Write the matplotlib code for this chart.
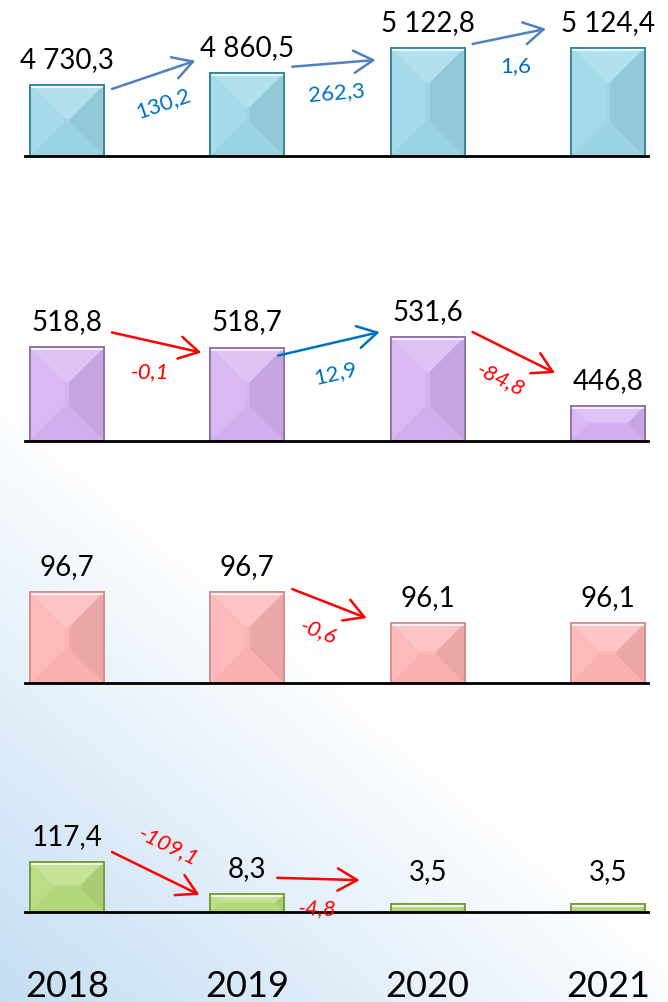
import numpy as np
import matplotlib
matplotlib.use('Agg')
import matplotlib.pyplot as plt
from matplotlib.patches import Polygon
from matplotlib.colors import to_rgb

plt.rcParams['font.family'] = ['Lato', 'DejaVu Sans']

# data
years = ['2018', '2019', '2020', '2021']
row1 = [4730.3, 4860.5, 5122.8, 5124.4]
row2 = [518.8, 518.7, 531.6, 446.8]
row3 = [96.7, 96.7, 96.1, 96.1]
row4 = [117.4, 8.3, 3.5, 3.5]

W, H = 668, 1002
fig = plt.figure(figsize=(W / 100, H / 100), dpi=100)

# background: white fading to light blue at bottom left
bg = fig.add_axes([0, 0, 1, 1], zorder=-10)
xf, yf = np.meshgrid(np.linspace(0, 1, 200), np.linspace(0, 1, 300))
t = np.clip(yf * 1.6 - 0.6 - xf * 0.9, 0, 1)
c = np.array([0.77, 0.87, 0.955])
img = 1 - t[..., None] * (1 - c)
bg.imshow(img, extent=[0, 1, 0, 1], aspect='auto', origin='upper', interpolation='bilinear')
bg.axis('off')

rows = [
    dict(vals=row1, base=156, ylim=(3977, 5462), scale='linear',
         face='#9DD7E7', edge='#31859C', up='#4F81BD'),
    dict(vals=row2, base=441, ylim=(403.8, 575.9), scale='linear',
         face='#D5B3F2', edge='#8E72A8', up='#0070C0'),
    dict(vals=row3, base=683, ylim=(94.94, 97.65), scale='linear',
         face='#FDB4B4', edge='#D38E8E', up='#0070C0'),
    dict(vals=row4, base=912, ylim=(1.82, 1.82 * np.exp(140 / 12)), scale='log',
         face='#B6DA7C', edge='#789A3E', up='#0070C0'),
]

# arrow tweaks in pixels: (tail dx, tail dy, head dx, head dy, label side, rotation)
tweaks = {
    (0, 0): (0, -4, 0, 12, 1, None),
    (0, 1): (0, 6, 0, -12, 1, None),
    (0, 2): (0, 4, -10, 19, 1, 0),
    (1, 0): (0, 15, 6, -5, 1, 0),
    (1, 1): (-14, -8, 4, 5, 1, None),
    (1, 2): (0, 5, -1, 33, 1, None),
    (2, 1): (0, 3, -9, 5, 1, None),
    (3, 0): (0, 10, 4, -1, -1, None),
    (3, 1): (-15, 16, -16, 24, 1, None),
}

BW = 0.41
x = np.arange(len(years))


def mix(col, other, f):
    a = np.array(to_rgb(col))
    b = np.array(to_rgb(other))
    return tuple(a * (1 - f) + b * f)


def fmt(v):
    return f'{v:,.1f}'.replace(',', ' ').replace('.', ',')


for r, row in enumerate(rows):
    ax = fig.add_axes([25 / W, 1 - row['base'] / H, 623 / W, 140 / H])
    ax.set_yscale(row['scale'])
    ax.set_xlim(-0.233, 3.222)
    ax.set_ylim(*row['ylim'])
    ax.patch.set_alpha(0)
    for s in ['top', 'left', 'right']:
        ax.spines[s].set_visible(False)
    ax.spines['bottom'].set_linewidth(2)
    ax.spines['bottom'].set_color('black')
    ax.spines['bottom'].set_zorder(5)
    ax.set_xticks([])
    ax.set_yticks([])
    ax.minorticks_off()

    y0 = row['ylim'][0]
    vals = np.array(row['vals'])
    ax.bar(x, vals - y0, bottom=y0, width=BW, color=row['face'],
           edgecolor=row['edge'], linewidth=1.2, zorder=2)

    boxes = []
    inv = ax.transData.inverted()
    for i, v in enumerate(vals):
        (xa, ya), (xb, yb) = ax.transData.transform([(x[i] - BW / 2, y0), (x[i] + BW / 2, v)])
        boxes.append((xa, ya, xb, yb))
        w, h = xb - xa, yb - ya
        d = min(w, h) * 0.47
        f = row['face']
        faces = [
            ([(xa, yb), (xb, yb), (xb - d, yb - d), (xa + d, yb - d)], mix(f, 'white', 0.22)),
            ([(xa, ya), (xb, ya), (xb - d, ya + d), (xa + d, ya + d)], mix(f, 'black', 0.02)),
            ([(xa, ya), (xa + d, ya + d), (xa + d, yb - d), (xa, yb)], mix(f, 'white', 0.08)),
            ([(xb, ya), (xb - d, ya + d), (xb - d, yb - d), (xb, yb)], mix(f, 'black', 0.07)),
        ]
        for pts, col in faces:
            ax.add_patch(Polygon(inv.transform(pts), closed=True, facecolor=col,
                                 edgecolor='none', zorder=3))
        ax.add_patch(Polygon(inv.transform([(xa, ya), (xb, ya), (xb, yb), (xa, yb)]),
                             closed=True, facecolor='none', edgecolor=row['edge'],
                             linewidth=1.3, zorder=4))
        ax.plot(*inv.transform([(xa + 2, yb - 2), (xb - 2, yb - 2)]).T,
                color='white', alpha=0.7, lw=1.5, zorder=4)

        # value label
        off = max(17, (H - row['base']) + 32 - yb)
        fig.text((xa + xb) / 2 / W, (yb + off) / H, fmt(v), ha='center', va='baseline',
                 fontsize=20, color='black')

    # change arrows
    for i in range(len(vals) - 1):
        dv = round(vals[i + 1] - vals[i], 1)
        if dv == 0:
            continue
        tdx, tdy, hdx, hdy, side, rot = tweaks.get((r, i), (0, 0, 0, 0, 1, None))
        tail = np.array([boxes[i][2] + 8 + tdx, boxes[i][3] + tdy])
        head = np.array([boxes[i + 1][0] - 15 + hdx, boxes[i + 1][3] + hdy])
        col = row['up'] if dv > 0 else '#FF0000'
        ax.annotate('', xy=head, xytext=tail, xycoords='figure pixels',
                    textcoords='figure pixels',
                    arrowprops=dict(arrowstyle='->,head_length=0.7,head_width=0.4',
                                    color=col, lw=1.8, shrinkA=0, shrinkB=0,
                                    mutation_scale=20), zorder=6)
        vec = head - tail
        ang = np.degrees(np.arctan2(vec[1], vec[0]))
        u = vec / np.hypot(*vec)
        perp = np.array([u[1], -u[0]]) * side  # below the arrow
        pos = (tail + head) / 2 + perp * 30
        lab_col = '#0070C0' if dv > 0 else '#FF0000'
        fig.text(pos[0] / W, pos[1] / H, f'{dv:.1f}'.replace('.', ','),
                 ha='center', va='center', fontsize=16, color=lab_col,
                 rotation=ang if rot is None else rot, rotation_mode='anchor',
                 style='normal' if dv > 0 else 'italic')

# years along the bottom
for i, yr in enumerate(years):
    xc = 25 + (x[i] + 0.233) / (3.222 + 0.233) * 623
    fig.text(xc / W, 5 / H, yr, ha='center', va='baseline', fontsize=26, color='black')

fig.savefig('out.png', dpi=100)
